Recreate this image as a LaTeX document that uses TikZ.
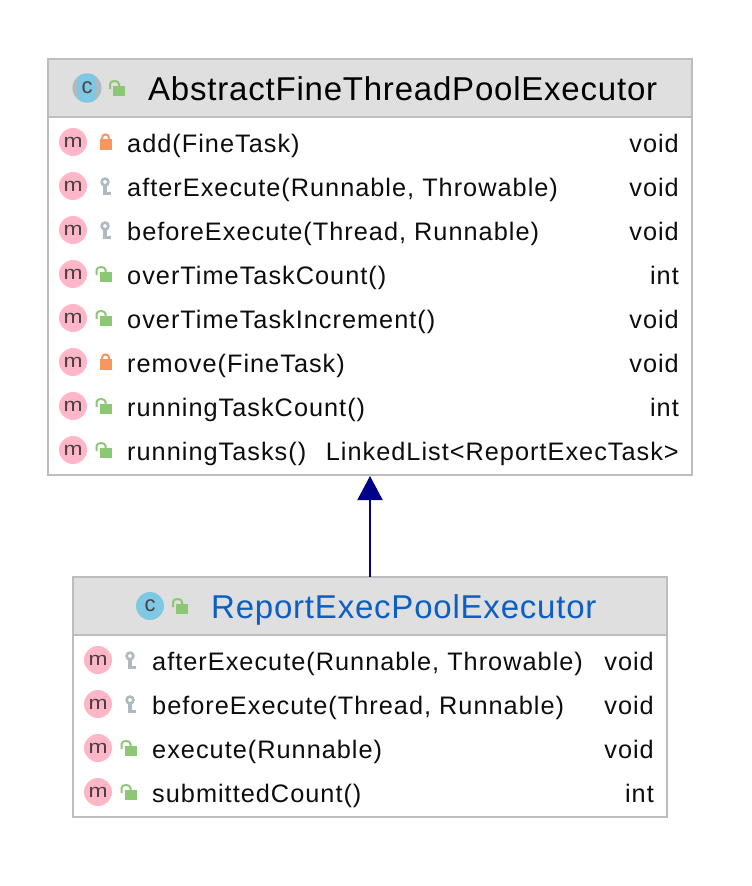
\documentclass[tikz,border=0pt]{standalone}
\usepackage{fontspec}
\setmainfont{Liberation Sans}
\newfontfamily\rowfont[LetterSpace=4]{Liberation Sans}
\newfontfamily\titlefont[LetterSpace=2.4]{Liberation Sans}
\usetikzlibrary{arrows.meta}
\definecolor{hdr}{HTML}{DFDFDF}
\definecolor{edge}{HTML}{BDBDBD}
\definecolor{pinkm}{HTML}{FFB6C6}
\definecolor{dark}{HTML}{4A3F44}
\definecolor{cblue}{HTML}{7EC8E3}
\definecolor{lockg}{HTML}{8DC774}
\definecolor{locko}{HTML}{F8965F}
\definecolor{keyg}{HTML}{AEB9C0}
\definecolor{titleb}{HTML}{0B5FC4}
\definecolor{arrowb}{HTML}{00008B}
\tikzset{
  x=1pt,y=-1pt,
  umlbox/.style={draw=edge,line width=2pt,fill=white,inner sep=0,outer sep=0},
  umlhead/.style={draw=edge,line width=2pt,fill=hdr,inner sep=0,outer sep=0},
  badge/.style={circle,minimum size=28pt,inner sep=0,font=\fontsize{19}{19}\selectfont,text=dark},
  member/.style={anchor=base west,inner sep=0,font=\rowfont\fontsize{25.3}{28}\selectfont,text=black!95},
  rettype/.style={anchor=base east,inner sep=0,font=\rowfont\fontsize{25.3}{28}\selectfont,text=black!95},
  classtitle/.style={anchor=base west,inner sep=0,font=\titlefont\fontsize{33}{36}\selectfont},
}
\newcommand{\mglyph}{\raisebox{-1.5pt}{\scalebox{1.2}[1]{m}}}
\newcommand{\cglyph}{\raisebox{-1.5pt}{c}}
% icons: drawn around (x,y)
\newcommand{\icUnlock}[2]{%
  \fill[lockg] (#1-4,#2-2) rectangle (#1+8,#2+8);
  \draw[lockg,line width=2pt] (#1-7,#2+1) -- (#1-7,#2-4) .. controls (#1-7,#2-8) and (#1+2,#2-8) .. (#1+2,#2-4) -- (#1+2,#2-2);
}
\newcommand{\icRowUnlock}[2]{\icUnlock{#1-1.5}{#2-1}}
\newcommand{\icLock}[2]{%
  \fill[locko] (#1-5.5,#2-4) rectangle (#1+6.5,#2+7);
  \draw[locko,line width=2pt] (#1-3,#2-4) -- (#1-3,#2-5) .. controls (#1-3,#2-9.8) and (#1+4,#2-9.8) .. (#1+4,#2-5) -- (#1+4,#2-4);
}
\newcommand{\icKey}[2]{%
  \draw[keyg,line width=2.6pt] (#1,#2-5) circle (3.4);
  \fill[keyg] (#1-1.8,#2-1) rectangle (#1+1.8,#2+8);
  \fill[keyg] (#1+1,#2+5) rectangle (#1+6,#2+8);
}
% \row{name}{y}{offset}{icon macro}{text}{type}{type right edge}
\newcommand{\row}[7]{%
  \node[badge,fill=pinkm] (m#1) at (73+#3,#2-1) {\mglyph};
  #4{105+#3}{#2}
  \node[member] (t#1) at (127+#3,#2+9) {#5};
  \node[rettype] (r#1) at (#7,#2+9) {#6};
}
\begin{document}
\begin{tikzpicture}
\useasboundingbox (0,0) rectangle (752,886);
\fill[white] (0,0) rectangle (752,886);
% class boxes
\node[umlbox,minimum width=644pt,minimum height=416pt] (super) at (370,267) {};
\node[umlhead,minimum width=644pt,minimum height=58pt] (superhead) at (370,88) {};
\node[umlbox,minimum width=594pt,minimum height=240pt] (sub) at (370,697) {};
\node[umlhead,minimum width=594pt,minimum height=58pt] (subhead) at (370,606) {};
% inheritance
\draw[arrowb,line width=2pt,shorten >=1pt,-{Triangle[width=25pt,length=24pt]}] (sub.north) -- (super.south);
% super header
\begin{scope}
\node[circle,fill=keyg,minimum size=29pt,inner sep=0] (c1back) at (87,88) {};
\clip (78,70) rectangle (96,106);
\node[circle,fill=cblue,minimum size=29pt,inner sep=0] (c1) at (87,88) {};
\end{scope}
\node[font=\fontsize{22}{22}\selectfont,text=dark,inner sep=0] (c1t) at (87,88) {\cglyph};
\icUnlock{117}{88}
\node[classtitle,text=black] (t1) at (148,100) {AbstractFineThreadPoolExecutor};
% super rows
\row{a}{143}{0}{\icLock}{add(FineTask)}{void}{679}
\row{b}{187}{0}{\icKey}{afterExecute(Runnable, Throwable)}{void}{679}
\row{c}{231}{0}{\icKey}{beforeExecute(Thread, Runnable)}{void}{679}
\row{d}{275}{0}{\icRowUnlock}{overTimeTaskCount()}{int}{679}
\row{e}{319}{0}{\icRowUnlock}{overTimeTaskIncrement()}{void}{679}
\row{f}{363}{0}{\icLock}{remove(FineTask)}{void}{679}
\row{g}{407}{0}{\icRowUnlock}{runningTaskCount()}{int}{679}
\row{h}{451}{0}{\icRowUnlock}{runningTasks()}{LinkedList<ReportExecTask>}{679}
% sub header
\node[badge,fill=cblue,font=\fontsize{22}{22}\selectfont] (c2) at (150,606) {\cglyph};
\icUnlock{180}{606}
\node[classtitle,text=titleb] (t2) at (211,618) {ReportExecPoolExecutor};
% sub rows
\row{i}{661}{25}{\icKey}{afterExecute(Runnable, Throwable)}{void}{654}
\row{j}{705}{25}{\icKey}{beforeExecute(Thread, Runnable)}{void}{654}
\row{k}{749}{25}{\icRowUnlock}{execute(Runnable)}{void}{654}
\row{l}{793}{25}{\icRowUnlock}{submittedCount()}{int}{654}
\end{tikzpicture}
\end{document}
